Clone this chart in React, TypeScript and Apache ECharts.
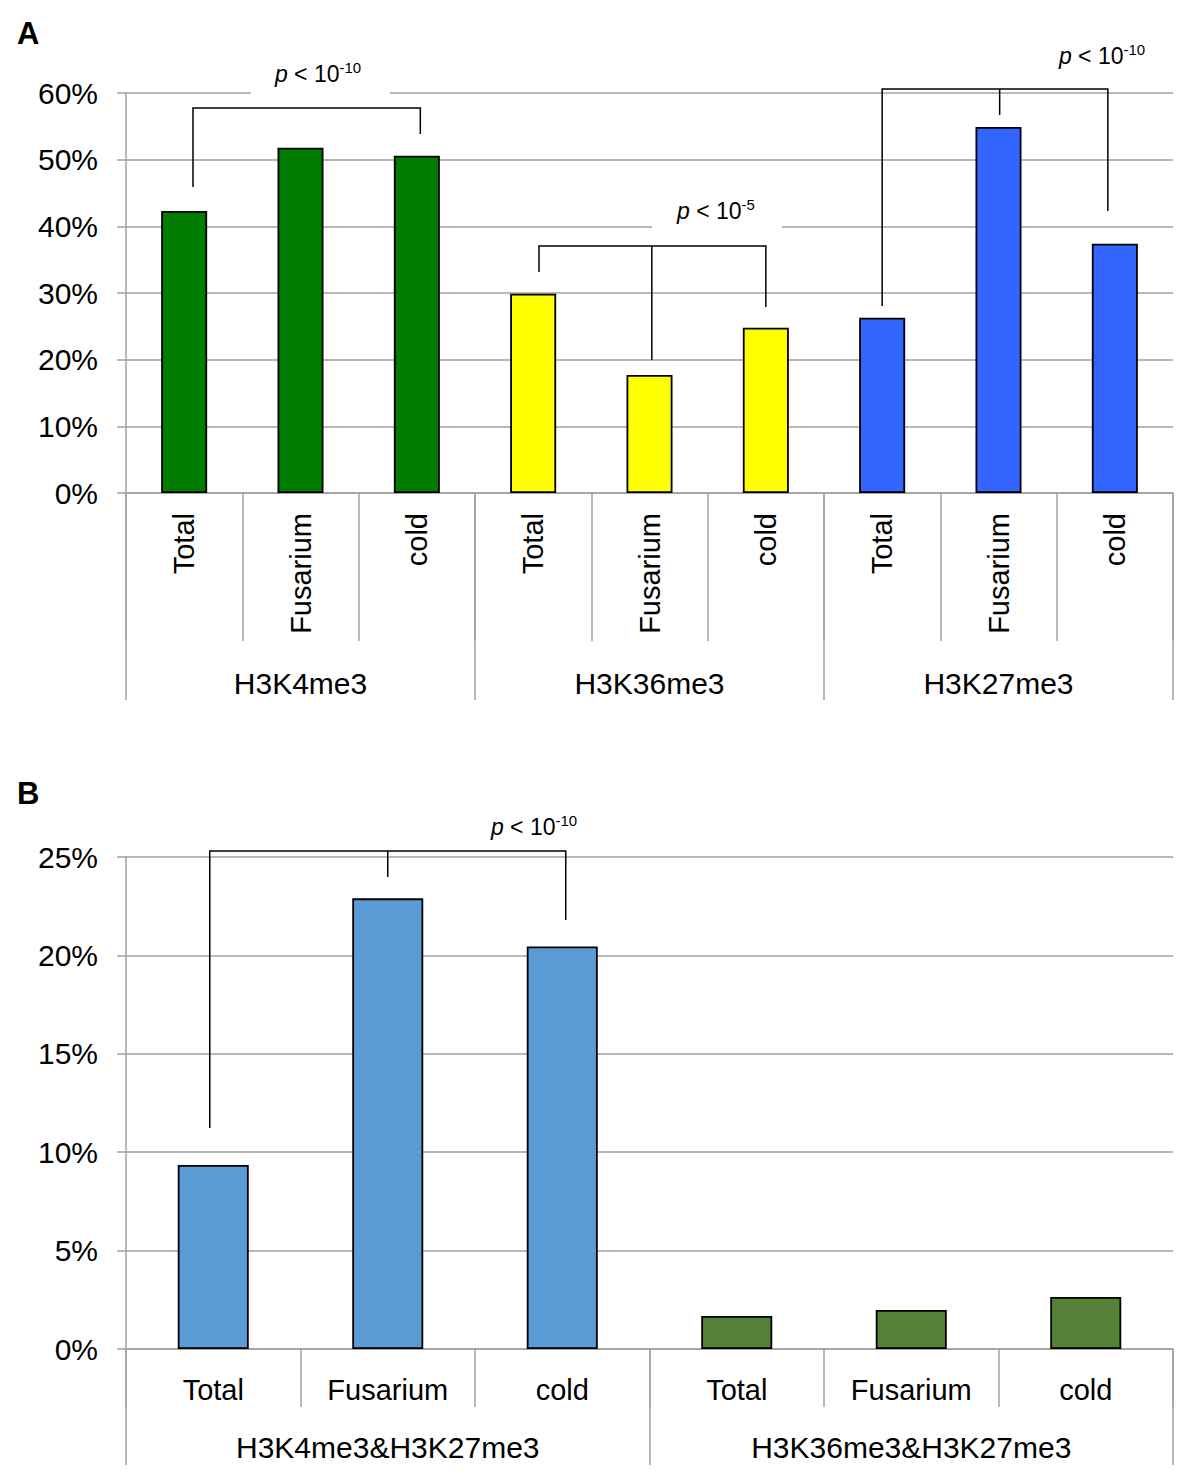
import React, { useEffect, useRef } from 'react';
import * as echarts from 'echarts';

// ---------- Data ----------
const subCategoriesA = ['Total', 'Fusarium', 'cold', 'Total', 'Fusarium', 'cold', 'Total', 'Fusarium', 'cold'];
const groupsA = ['H3K4me3', 'H3K36me3', 'H3K27me3'];
const valuesA = [42.3, 51.8, 50.6, 29.9, 17.7, 24.8, 26.3, 54.9, 37.4];

const subCategoriesB = ['Total', 'Fusarium', 'cold', 'Total', 'Fusarium', 'cold'];
const groupsB = ['H3K4me3&H3K27me3', 'H3K36me3&H3K27me3'];
const valuesB = [9.35, 22.9, 20.45, 1.68, 1.98, 2.64];

// brackets (in category units / value units):
// [anchorCat, leftPos, rightPos, midPos(-1 = none), topValue, leftEndValue, midEndValue, rightEndValue]
const bracketsA = [
  [0, 0.076, 2.03, -1, 57.75, 45.9, -1, 53.85],
  [3, 3.05, 5.0, 4.02, 37.05, 33.15, 19.95, 27.9],
  [6, 6.0, 7.94, 7.01, 60.6, 28.05, 56.7, 42.3],
];
const bracketsB = [[0, -0.02, 2.02, 1.0, 25.3, 11.23, 23.98, 21.8]];

const pExponentsA = ['-10', '-5', '-10'];
const pExponentsB = ['-10'];

// ---------- Styles ----------
const FONT = '"Liberation Sans", Arial, Helvetica, sans-serif';
const GRAY = '#a0a0a0';
const colorsA = ['#007d00', '#ffff00', '#3366ff'];
const colorsB = ['#5b9bd5', '#538135'];

const renderBracket = (params: any, api: any) => {
  const anchor = api.value(0);
  const band = api.size([1, 0])[0];
  const top = api.value(4);
  const base = api.coord([anchor, top]);
  const xAt = (pos: number) => base[0] + (pos - anchor) * band;
  const yAt = (v: number) => api.coord([anchor, v])[1];
  const xl = xAt(api.value(1));
  const xr = xAt(api.value(2));
  const m = api.value(3);
  const yTop = base[1];
  const children: any[] = [
    {
      type: 'polyline',
      shape: { points: [[xl, yAt(api.value(5))], [xl, yTop], [xr, yTop], [xr, yAt(api.value(7))]] },
      style: { stroke: '#000', lineWidth: 1.5, fill: 'none' },
    },
  ];
  if (m >= 0) {
    const xm = xAt(m);
    children.push({
      type: 'line',
      shape: { x1: xm, y1: yTop, x2: xm, y2: yAt(api.value(6)) },
      style: { stroke: '#000', lineWidth: 1.5 },
    });
  }
  return { type: 'group', children };
};

const pText = (exp: string, x: number, y: number) => ({
  type: 'text',
  z: 100,
  x,
  y,
  style: {
    text: `{i|p}{n| < 10}{s|${exp}}`,
    align: 'center',
    verticalAlign: 'middle',
    fill: '#000',
    rich: {
      i: { fontFamily: FONT, fontSize: 23, fontStyle: 'italic', lineHeight: 28, fill: '#000' },
      n: { fontFamily: FONT, fontSize: 23, lineHeight: 28, fill: '#000' },
      s: { fontFamily: FONT, fontSize: 15, lineHeight: 16, verticalAlign: 'top', fill: '#000' },
    },
  },
});

const App: React.FC = () => {
  const ref = useRef<HTMLDivElement>(null);

  useEffect(() => {
    if (!ref.current) return;
    const chart = echarts.init(ref.current, null, { renderer: 'svg' });

    const lineStyle = { color: GRAY, width: 1.5 };

    const option: any = {
      animation: false,
      backgroundColor: '#fff',
      textStyle: { fontFamily: FONT },
      grid: [
        { left: 126, top: 93, width: 1047, height: 400, outerBoundsMode: 'none' },
        { left: 126, top: 857, width: 1047, height: 492, outerBoundsMode: 'none' },
      ],
      xAxis: [
        {
          gridIndex: 0,
          type: 'category',
          position: 'bottom',
          data: subCategoriesA,
          axisLine: { show: true, lineStyle },
          axisTick: { show: true, interval: 0, length: 148, lineStyle },
          axisLabel: { interval: 0, rotate: 90, margin: 20, fontSize: 29, color: '#000', fontFamily: FONT },
          splitLine: { show: false },
        },
        {
          gridIndex: 0,
          type: 'category',
          position: 'bottom',
          data: groupsA,
          axisLine: { show: false },
          axisTick: { show: true, interval: 0, length: 207, lineStyle },
          axisLabel: { interval: 0, margin: 175, fontSize: 30, color: '#000', fontFamily: FONT },
          splitLine: { show: false },
        },
        {
          gridIndex: 1,
          type: 'category',
          position: 'bottom',
          data: subCategoriesB,
          axisLine: { show: true, lineStyle },
          axisTick: { show: true, interval: 0, length: 58, lineStyle },
          axisLabel: { interval: 0, margin: 26, fontSize: 29, color: '#000', fontFamily: FONT },
          splitLine: { show: false },
        },
        {
          gridIndex: 1,
          type: 'category',
          position: 'bottom',
          data: groupsB,
          axisLine: { show: false },
          axisTick: { show: true, interval: 0, length: 116, lineStyle },
          axisLabel: { interval: 0, margin: 83, fontSize: 30, color: '#000', fontFamily: FONT },
          splitLine: { show: false },
        },
      ],
      yAxis: [
        {
          gridIndex: 0,
          type: 'value',
          min: 0,
          max: 60,
          interval: 10,
          axisLine: { show: true, lineStyle },
          axisTick: { show: true, length: 9, lineStyle },
          axisLabel: { formatter: '{value}%', fontSize: 30, margin: 28, color: '#000', fontFamily: FONT },
          splitLine: { show: true, lineStyle },
        },
        {
          gridIndex: 1,
          type: 'value',
          min: 0,
          max: 25,
          interval: 5,
          axisLine: { show: true, lineStyle },
          axisTick: { show: true, length: 9, lineStyle },
          axisLabel: { formatter: '{value}%', fontSize: 30, margin: 28, color: '#000', fontFamily: FONT },
          splitLine: { show: true, lineStyle },
        },
      ],
      series: [
        {
          type: 'bar',
          xAxisIndex: 0,
          yAxisIndex: 0,
          barWidth: 46,
          silent: true,
          itemStyle: { borderColor: '#000', borderWidth: 1.8 },
          data: valuesA.map((v, i) => ({ value: v, itemStyle: { color: colorsA[Math.floor(i / 3)] } })),
        },
        {
          type: 'bar',
          xAxisIndex: 2,
          yAxisIndex: 1,
          barWidth: 71,
          silent: true,
          itemStyle: { borderColor: '#000', borderWidth: 1.8 },
          data: valuesB.map((v, i) => ({ value: v, itemStyle: { color: colorsB[Math.floor(i / 3)] } })),
        },
        {
          type: 'custom',
          xAxisIndex: 0,
          yAxisIndex: 0,
          clip: false,
          silent: true,
          z: 10,
          encode: { x: 0, y: 4 },
          renderItem: renderBracket,
          data: bracketsA,
        },
        {
          type: 'custom',
          xAxisIndex: 2,
          yAxisIndex: 1,
          clip: false,
          silent: true,
          z: 10,
          encode: { x: 0, y: 4 },
          renderItem: renderBracket,
          data: bracketsB,
        },
      ],
      graphic: [
        { type: 'text', z: 100, x: 17, y: 18, style: { text: 'A', font: `bold 31px ${FONT}`, fill: '#000' } },
        { type: 'text', z: 100, x: 17, y: 778, style: { text: 'B', font: `bold 31px ${FONT}`, fill: '#000' } },
        { type: 'rect', z: 50, shape: { x: 251, y: 87, width: 139, height: 12 }, style: { fill: '#fff' } },
        { type: 'rect', z: 50, shape: { x: 652, y: 221, width: 130, height: 12 }, style: { fill: '#fff' } },
        pText(pExponentsA[0], 318, 74),
        pText(pExponentsA[1], 716, 211),
        pText(pExponentsA[2], 1102, 56),
        pText(pExponentsB[0], 534, 827),
      ],
    };

    chart.setOption(option);
    return () => {
      chart.dispose();
    };
  }, []);

  return (
    <div
      ref={ref}
      style={{ position: 'absolute', left: 0, top: 0, width: 1183, height: 1475, background: '#fff' }}
    />
  );
};

export default App;
